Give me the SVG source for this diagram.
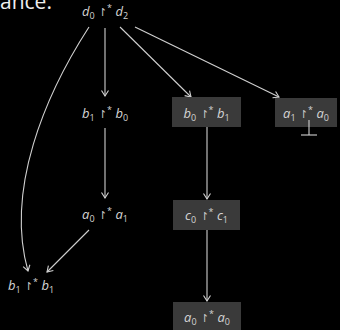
<svg xmlns="http://www.w3.org/2000/svg" width="340" height="330" viewBox="0 0 340 330">
<defs>
<style>
.bg{fill:#000}
.box{fill:#3a3a3a}
.lbl{font-family:"Open Sans","DejaVu Sans",sans-serif;font-size:13px;fill:#d4d4d4;text-anchor:middle}
.v{font-style:italic}
.sb{font-size:9px}
.sp{font-size:9px}
.op{font-family:"DejaVu Sans",sans-serif;font-size:11px;font-weight:200;fill:#c8c8c8}
.e{fill:none;stroke:#d0d0d0;stroke-width:1.1}
</style>
<marker id="ah" markerWidth="10" markerHeight="10" refX="6" refY="4" orient="auto" markerUnits="userSpaceOnUse" viewBox="0 0 10 8">
<polyline points="0.5,0.5 6,4 0.5,7.5" fill="none" stroke="#d0d0d0" stroke-width="1.1"/>
</marker>
</defs>
<rect class="bg" width="340" height="330"/>
<text x="0" y="8.5" font-family="'Open Sans',sans-serif" font-size="21" fill="#eeeeee">ance.</text>

<g id="edges">
<line class="e" x1="105" y1="28" x2="105" y2="96" marker-end="url(#ah)"/>
<line class="e" x1="105" y1="128" x2="105" y2="198" marker-end="url(#ah)"/>
<line class="e" x1="120" y1="27" x2="191" y2="97" marker-end="url(#ah)"/>
<line class="e" x1="135" y1="27" x2="279" y2="97" marker-end="url(#ah)"/>
<path class="e" d="M89,27 C45,95 5,190 28,271" marker-end="url(#ah)"/>
<line class="e" x1="89" y1="230" x2="47" y2="272" marker-end="url(#ah)"/>
<line class="e" x1="207" y1="127" x2="207" y2="199" marker-end="url(#ah)"/>
<line class="e" x1="207" y1="230" x2="207" y2="301" marker-end="url(#ah)"/>
</g>

<g id="n0">
<text class="lbl" x="105" y="16"><tspan class="v">d</tspan><tspan class="sb" dy="3">0</tspan><tspan class="op" dy="-3"> ↾</tspan><tspan class="sp" dy="-5">*</tspan><tspan dy="5"> </tspan><tspan class="v">d</tspan><tspan class="sb" dy="3">2</tspan></text>
</g>
<g id="n1">
<text class="lbl" x="105" y="118"><tspan class="v">b</tspan><tspan class="sb" dy="3">1</tspan><tspan class="op" dy="-3"> ↾</tspan><tspan class="sp" dy="-5">*</tspan><tspan dy="5"> </tspan><tspan class="v">b</tspan><tspan class="sb" dy="3">0</tspan></text>
</g>
<g id="n2">
<rect class="box" x="172" y="97" width="69" height="30"/>
<text class="lbl" x="206.5" y="118"><tspan class="v">b</tspan><tspan class="sb" dy="3">0</tspan><tspan class="op" dy="-3"> ↾</tspan><tspan class="sp" dy="-5">*</tspan><tspan dy="5"> </tspan><tspan class="v">b</tspan><tspan class="sb" dy="3">1</tspan></text>
</g>
<g id="n3">
<rect class="box" x="275" y="98" width="62" height="29"/>
<text class="lbl" x="306" y="118"><tspan class="v">a</tspan><tspan class="sb" dy="3">1</tspan><tspan class="op" dy="-3"> ↾</tspan><tspan class="sp" dy="-5">*</tspan><tspan dy="5"> </tspan><tspan class="v">a</tspan><tspan class="sb" dy="3">0</tspan></text>
<line class="e" x1="309" y1="120" x2="309" y2="135"/>
<line class="e" x1="301" y1="135" x2="317" y2="135"/>
</g>
<g id="n4">
<text class="lbl" x="105" y="219"><tspan class="v">a</tspan><tspan class="sb" dy="3">0</tspan><tspan class="op" dy="-3"> ↾</tspan><tspan class="sp" dy="-5">*</tspan><tspan dy="5"> </tspan><tspan class="v">a</tspan><tspan class="sb" dy="3">1</tspan></text>
</g>
<g id="n5">
<rect class="box" x="173" y="200" width="67" height="30"/>
<text class="lbl" x="206.5" y="220"><tspan class="v">c</tspan><tspan class="sb" dy="3">0</tspan><tspan class="op" dy="-3"> ↾</tspan><tspan class="sp" dy="-5">*</tspan><tspan dy="5"> </tspan><tspan class="v">c</tspan><tspan class="sb" dy="3">1</tspan></text>
</g>
<g id="n6">
<rect class="box" x="173" y="302" width="68" height="28"/>
<text class="lbl" x="207" y="322"><tspan class="v">a</tspan><tspan class="sb" dy="3">0</tspan><tspan class="op" dy="-3"> ↾</tspan><tspan class="sp" dy="-5">*</tspan><tspan dy="5"> </tspan><tspan class="v">a</tspan><tspan class="sb" dy="3">0</tspan></text>
</g>
<g id="n7">
<text class="lbl" x="31" y="290"><tspan class="v">b</tspan><tspan class="sb" dy="3">1</tspan><tspan class="op" dy="-3"> ↾</tspan><tspan class="sp" dy="-5">*</tspan><tspan dy="5"> </tspan><tspan class="v">b</tspan><tspan class="sb" dy="3">1</tspan></text>
</g>
</svg>
